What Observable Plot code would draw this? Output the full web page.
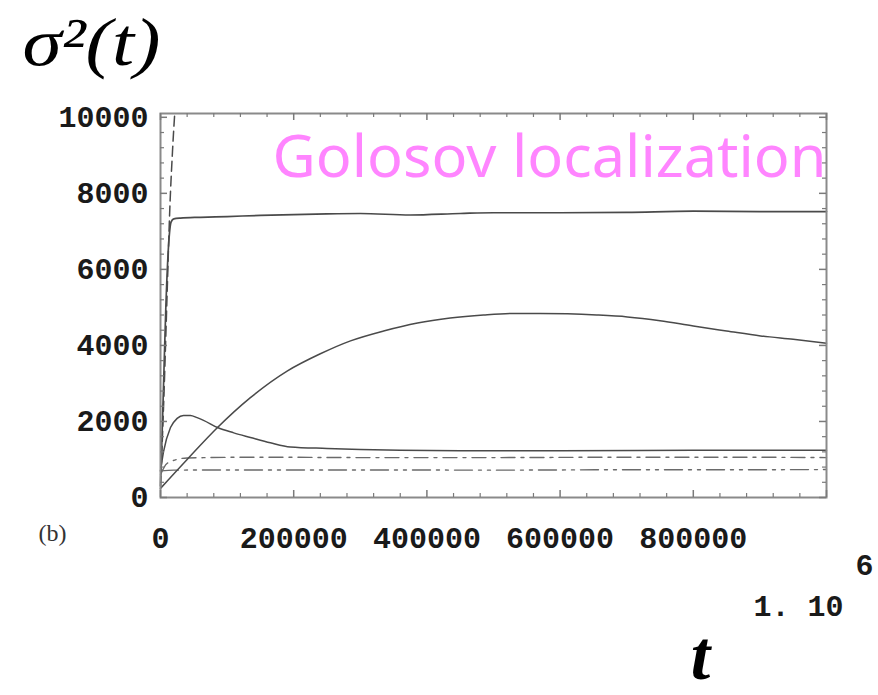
<!DOCTYPE html>
<html>
<head>
<meta charset="utf-8">
<script src="https://cdn.jsdelivr.net/npm/d3@7"></script>
<script src="https://cdn.jsdelivr.net/npm/@observablehq/plot@0.6"></script>
<style>
  body { margin: 0; background: #fff; }
</style>
</head>
<body>
<div id="chart"></div>
<script>
// Width of the wave packet, sigma^2(t), for several runs

// fast run that leaves the frame almost at once (dashed)
const fastT = [0, 5000, 10000, 14000, 18000, 21000, 24000, 30000];
const fastV = [300, 2600, 5400, 7600, 9100, 10000, 10700, 12000];

// run that saturates near 7500 (solid)
const highT = [0, 4000, 8000, 12000, 16000, 20000, 30000, 60000, 100000, 150000, 200000, 250000, 300000, 375000, 450000, 500000, 600000, 700000, 800000, 900000, 1000000];
const highV = [300, 2600, 5000, 6600, 7250, 7330, 7350, 7370, 7390, 7420, 7440, 7460, 7470, 7430, 7470, 7490, 7490, 7500, 7530, 7520, 7520];

// slow rise with a broad maximum (solid)
const slowT = [0, 40000, 85600, 135000, 190700, 240000, 285300, 335000, 385900, 435000, 485000, 530000, 570000, 611000, 655000, 701000, 750000, 800000, 850000, 901000, 950000, 1000000];
const slowV = [240, 1000, 1840, 2625, 3330, 3780, 4120, 4380, 4590, 4720, 4800, 4840, 4840, 4830, 4800, 4750, 4650, 4510, 4380, 4250, 4160, 4060];

// early hump that relaxes to ~1240 (solid)
const humpT = [0, 4500, 15000, 25000, 34500, 45000, 55000, 64600, 85600, 110000, 135000, 165000, 195000, 250000, 300000, 360000, 450000, 600000, 800000, 1000000];
const humpV = [700, 1200, 1840, 2080, 2160, 2160, 2100, 2030, 1840, 1700, 1580, 1440, 1330, 1290, 1260, 1240, 1230, 1230, 1240, 1245];

// low plateaus (dash-dot)
const midT = [0, 10000, 40000, 150000, 300000, 500000, 700000, 850000, 1000000];
const midV = [600, 900, 1040, 1060, 1050, 1050, 1060, 1060, 1050];
const lowT = [0, 20000, 150000, 300000, 500000, 700000, 850000, 1000000];
const lowV = [700, 720, 725, 725, 720, 730, 730, 735];

// axis ticks
const xMajor = [0, 200000, 400000, 600000, 800000, 1000000];
const xLabels = [0, 200000, 400000, 600000, 800000];
const yMajor = [0, 2000, 4000, 6000, 8000, 10000];

const title = "Golosov localization";
const yTitle = "σ²(t)";

const W = 878, H = 695;
const mL = 160, mR = 52, mT = 113, mB = 198;
const xMax = 1000000, yMax = 10100;

const toRows = (ts, vs) => ts.map((t, i) => ({t, v: vs[i]}));
const fast = toRows(fastT, fastV);
const high = toRows(highT, highV);
const slow = toRows(slowT, slowV);
const hump = toRows(humpT, humpV);
const mid = toRows(midT, midV);
const low = toRows(lowT, lowV);

// minor ticks: five intervals per major step
const xMinor = d3.range(0, xMax + 1, 40000).filter(d => d % 200000 !== 0);
const yMinor = d3.range(0, 10001, 400).filter(d => d % 2000 !== 0);

// inward tick lengths, converted from pixels to data units
const pxY = yMax / (H - mT - mB);
const pxX = xMax / (W - mL - mR);
const majY = 7 * pxY, minY = 4 * pxY;
const majX = 7 * pxX, minX = 4 * pxX;

const lineColor = "#4a4a4a";
const tickColor = "#7a7a7a";

const chart = Plot.plot({
  width: W,
  height: H,
  marginLeft: mL,
  marginRight: mR,
  marginTop: mT,
  marginBottom: mB,
  style: {
    fontFamily: "'Liberation Mono', monospace",
    fontWeight: "bold",
    fontSize: "30px",
    color: "#1a1a1a",
    background: "#fff"
  },
  x: {domain: [0, xMax], axis: null, label: null},
  y: {domain: [0, yMax], axis: null, label: null},
  marks: [
    // curves
    Plot.line(low, {x: "t", y: "v", stroke: "#6a6a6a", strokeWidth: 1.4, strokeDasharray: "18,6,3,6,3,6", curve: "monotone-x"}),
    Plot.line(mid, {x: "t", y: "v", stroke: "#6a6a6a", strokeWidth: 1.4, strokeDasharray: "14,6,3,6", curve: "monotone-x"}),
    Plot.line(hump, {x: "t", y: "v", stroke: lineColor, strokeWidth: 1.5, curve: "monotone-x"}),
    Plot.line(slow, {x: "t", y: "v", stroke: lineColor, strokeWidth: 1.5, curve: "monotone-x"}),
    Plot.line(high, {x: "t", y: "v", stroke: lineColor, strokeWidth: 1.7, curve: "monotone-x"}),
    Plot.line(fast, {x: "t", y: "v", stroke: lineColor, strokeWidth: 1.5, strokeDasharray: "10,5", curve: "monotone-x", clip: true}),

    // frame and inward ticks on all four sides
    Plot.frame({stroke: "#8a8a8a", strokeWidth: 2}),
    Plot.ruleX(xMajor, {x: d => d, y1: 0, y2: majY, stroke: tickColor, strokeWidth: 1.5}),
    Plot.ruleX(xMinor, {x: d => d, y1: 0, y2: minY, stroke: tickColor, strokeWidth: 1.2}),
    Plot.ruleX(xMajor, {x: d => d, y1: yMax, y2: yMax - majY, stroke: tickColor, strokeWidth: 1.5}),
    Plot.ruleX(xMinor, {x: d => d, y1: yMax, y2: yMax - minY, stroke: tickColor, strokeWidth: 1.2}),
    Plot.ruleY(yMajor, {y: d => d, x1: 0, x2: majX, stroke: tickColor, strokeWidth: 1.5}),
    Plot.ruleY(yMinor, {y: d => d, x1: 0, x2: minX, stroke: tickColor, strokeWidth: 1.2}),
    Plot.ruleY(yMajor, {y: d => d, x1: xMax, x2: xMax - majX, stroke: tickColor, strokeWidth: 1.5}),
    Plot.ruleY(yMinor, {y: d => d, x1: xMax, x2: xMax - minX, stroke: tickColor, strokeWidth: 1.2}),

    // tick labels
    Plot.axisX(xLabels, {anchor: "bottom", tickSize: 0, tickPadding: 29, tickFormat: d3.format("d"), label: null}),
    Plot.axisY(yMajor, {anchor: "left", tickSize: 0, tickPadding: 12, tickFormat: d3.format("d"), label: null}),
    Plot.text(["1. 10"], {frameAnchor: "bottom-right", dx: -28, dy: 109, textAnchor: "middle", lineAnchor: "middle"}),
    Plot.text(["6"], {frameAnchor: "bottom-right", dx: 38, dy: 68, textAnchor: "middle", lineAnchor: "middle"}),

    // axis titles and panel tag
    Plot.text([yTitle], {frameAnchor: "top-left", dx: -138, dy: -70, textAnchor: "start", lineAnchor: "middle",
      fontFamily: "'Liberation Serif', serif", fontStyle: "italic", fontWeight: "normal", fontSize: 68, fill: "#000"}),
    Plot.text(["t"], {frameAnchor: "bottom-left", dx: 540, dy: 159, textAnchor: "middle", lineAnchor: "middle",
      fontFamily: "'Liberation Serif', serif", fontStyle: "italic", fontWeight: "bold", fontSize: 70, fill: "#000"}),
    Plot.text(["(b)"], {frameAnchor: "bottom-left", dx: -122, dy: 36, textAnchor: "start", lineAnchor: "middle",
      fontFamily: "'Liberation Serif', serif", fontWeight: "normal", fontSize: 24, fill: "#333"}),

    // annotation
    Plot.text([title], {frameAnchor: "top-right", dx: 0, dy: 45, textAnchor: "end", lineAnchor: "middle",
      fontFamily: "'Comic Sans MS', 'Noto Sans', sans-serif", fontWeight: "normal", fontSize: 58, fill: "#ff85ff"})
  ]
});

// stretch the annotation and the y title to their set widths
const stretch = (txt, len) => d3.select(chart).selectAll("text")
  .filter(function () { return this.textContent === txt; })
  .attr("textLength", len)
  .attr("lengthAdjust", "spacingAndGlyphs");
stretch(title, 554);
stretch(yTitle, 138);

document.getElementById("chart").appendChild(chart);
</script>
</body>
</html>
